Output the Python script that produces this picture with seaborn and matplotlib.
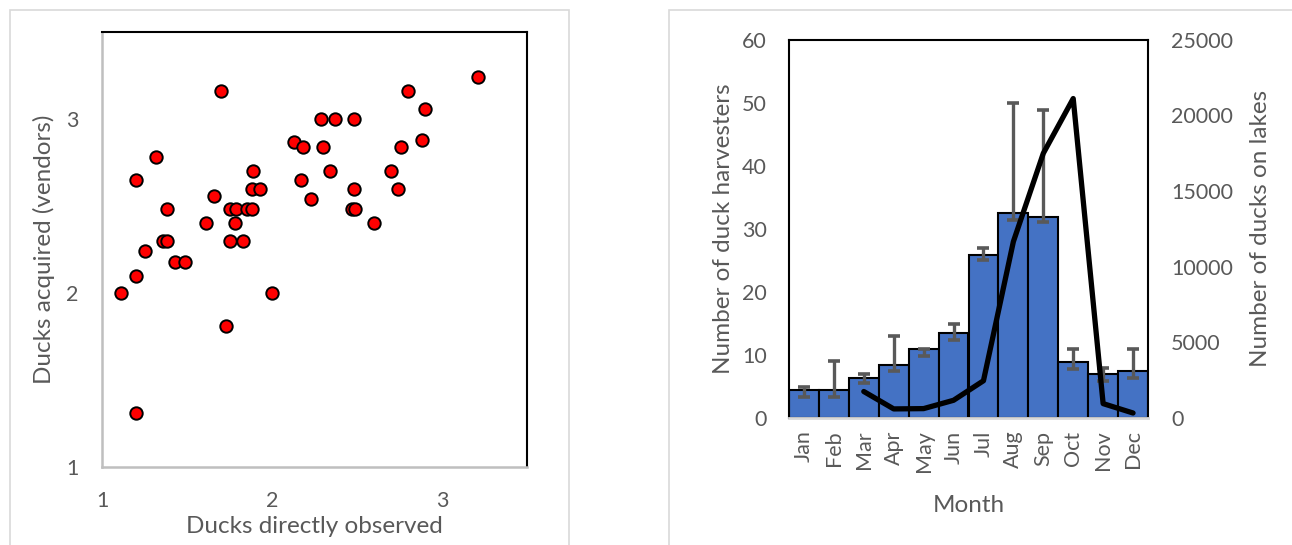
import numpy as np
import pandas as pd
import matplotlib
matplotlib.use("Agg")
import matplotlib.pyplot as plt
from matplotlib.patches import Rectangle
import seaborn as sns

# scatter: ducks directly observed vs ducks acquired from vendors
observed = [3.21, 1.70, 2.80, 2.90, 2.29, 2.37, 2.48, 2.13, 2.18, 2.30, 2.88, 2.76,
            1.32, 1.20, 1.89, 2.34, 2.70, 2.17, 1.88, 1.93, 2.48, 2.74, 1.66, 2.23,
            1.38, 1.75, 1.79, 1.85, 1.88, 2.47, 2.49, 1.61, 1.78, 2.60, 1.36, 1.38,
            1.75, 1.83, 1.25, 1.43, 1.49, 1.20, 1.11, 2.00, 1.73, 1.20]
acquired = [3.24, 3.16, 3.16, 3.06, 3.00, 3.00, 3.00, 2.87, 2.84, 2.84, 2.88, 2.84,
            2.78, 2.65, 2.70, 2.70, 2.70, 2.65, 2.60, 2.60, 2.60, 2.60, 2.56, 2.54,
            2.48, 2.48, 2.48, 2.48, 2.48, 2.48, 2.48, 2.40, 2.40, 2.40, 2.30, 2.30,
            2.30, 2.30, 2.24, 2.18, 2.18, 2.10, 2.00, 2.00, 1.81, 1.31]

# monthly harvesters (mean with low/high error bounds) and ducks on lakes
months = ["Jan", "Feb", "Mar", "Apr", "May", "Jun", "Jul", "Aug", "Sep", "Oct", "Nov", "Dec"]
harvesters = [4.4, 4.4, 6.4, 8.4, 10.9, 13.4, 25.9, 32.5, 31.9, 8.9, 6.9, 7.4]
harv_low = [3.4, 3.4, 5.5, 7.4, 9.9, 12.4, 25.0, 31.4, 31.0, 7.8, 5.8, 6.4]
harv_high = [4.9, 9.0, 7.0, 13.0, 10.9, 14.9, 26.9, 50.0, 48.9, 10.9, 7.9, 10.9]
lake_months = ["Mar", "Apr", "May", "Jun", "Jul", "Aug", "Sep", "Oct", "Nov", "Dec"]
ducks_on_lakes = [1750, 600, 620, 1170, 2460, 11650, 17480, 21100, 950, 330]

sns.set_style("white")
plt.rcParams["font.family"] = ["Lato", "DejaVu Sans"]
grey = "#595959"
tick_fs, label_fs = 15.5, 17.5

W, H = 1292, 545
fig = plt.figure(figsize=(W / 100, H / 100), dpi=100)

def box(l, t, r, b):
    return [l / W, 1 - b / H, (r - l) / W, (b - t) / H]

# chart area frames
for l, t, r, b in [(10, 10, 569, 560), (669, 10, 1310, 560)]:
    fig.patches.append(Rectangle((l / W, 1 - b / H), (r - l) / W, (b - t) / H,
                                 transform=fig.transFigure, fill=False,
                                 edgecolor="#d9d9d9", linewidth=1.2))

# ---- left: scatter
ax1 = fig.add_axes(box(102, 32, 527, 467))
sns.scatterplot(x=observed, y=acquired, ax=ax1, color="#ff0000", edgecolor="black",
                linewidth=1.4, s=80, zorder=3)
ax1.set_xlim(1, 3.5)
ax1.set_ylim(1, 3.5)
ax1.set_xticks([1, 2, 3])
ax1.set_yticks([1, 2, 3])
ax1.tick_params(length=0, labelsize=tick_fs, colors=grey, pad=17)
ax1.tick_params(axis="y", pad=17)
ax1.set_xlabel("Ducks directly observed", fontsize=label_fs, color=grey, labelpad=4)
ax1.set_ylabel("Ducks acquired (vendors)", fontsize=label_fs, color=grey, labelpad=8)
for s in ["left", "bottom"]:
    ax1.spines[s].set_color("#bfbfbf")
    ax1.spines[s].set_linewidth(1.8)
for s in ["top", "right"]:
    ax1.spines[s].set_color("black")
    ax1.spines[s].set_linewidth(1.5)

# ---- right: bars + line
ax2 = fig.add_axes(box(789, 39.5, 1148, 418))
df = pd.DataFrame({"month": months, "harvesters": harvesters})
sns.barplot(data=df, x="month", y="harvesters", ax=ax2, color="#4472c4",
            saturation=1, width=1.0, edgecolor="black", linewidth=1.5, zorder=2)
pos = np.arange(len(months))
yerr = [np.array(harvesters) - np.array(harv_low), np.array(harv_high) - np.array(harvesters)]
ax2.errorbar(pos, harvesters, yerr=yerr, fmt="none", ecolor=grey, elinewidth=2.4,
             capsize=4.5, capthick=2.6, zorder=3)
ax2.set_xlim(-0.5, len(months) - 0.5)
ax2.set_ylim(0, 60)
ax2.set_yticks(range(0, 61, 10))
ax2.tick_params(length=0, labelsize=tick_fs, colors=grey)
ax2.tick_params(axis="y", pad=16)
ax2.tick_params(axis="x", rotation=90, pad=9)
ax2.set_xlabel("Month", fontsize=label_fs, color=grey, labelpad=16)
ax2.set_ylabel("Number of duck harvesters", fontsize=label_fs, color=grey, labelpad=6)
for s in ["left", "top", "right"]:
    ax2.spines[s].set_color("black")
    ax2.spines[s].set_linewidth(1.5)
ax2.spines["bottom"].set_color("#d9d9d9")
ax2.spines["bottom"].set_linewidth(2)

ax3 = ax2.twinx()
line_df = pd.DataFrame({"pos": [months.index(m) for m in lake_months], "ducks": ducks_on_lakes})
sns.lineplot(data=line_df, x="pos", y="ducks", ax=ax3, color="black", linewidth=3.8,
             solid_capstyle="round", zorder=4)
ax3.set_ylim(0, 25000)
ax3.set_yticks(range(0, 25001, 5000))
ax3.tick_params(length=0, labelsize=tick_fs, colors=grey, pad=16.5)
ax3.set_ylabel("Number of ducks on lakes", fontsize=label_fs, color=grey, labelpad=12)
ax3.set_xlabel("")
for s in ax3.spines.values():
    s.set_visible(False)

fig.savefig("out.png", dpi=100)
